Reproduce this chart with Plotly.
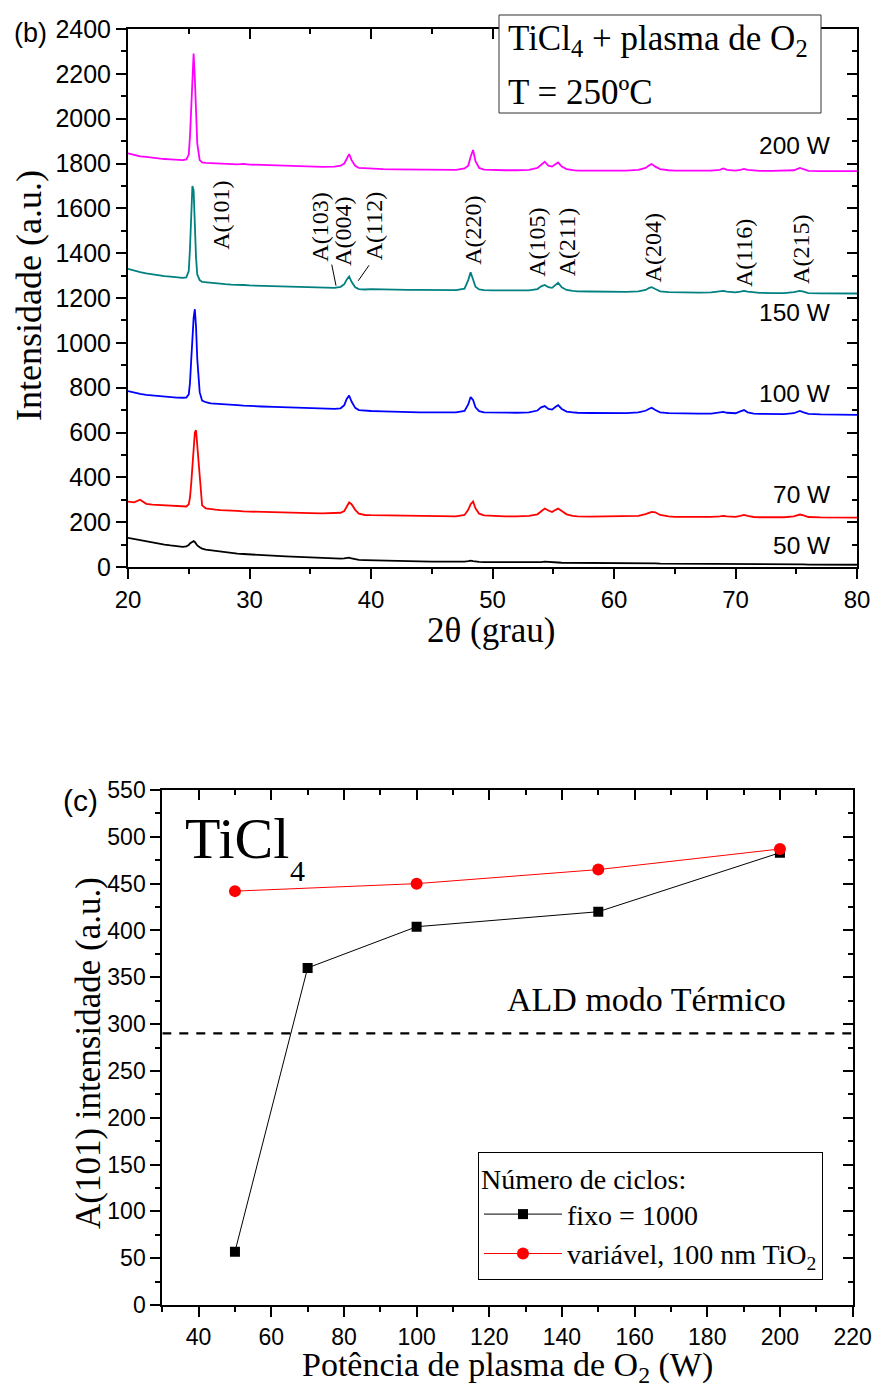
import plotly.graph_objects as go

# ---------------- data: panel (b) XRD patterns ----------------
two_theta = [
    20.0, 20.5, 21.0, 21.5, 22.0, 22.5, 23.0, 23.5, 24.0, 24.5, 24.8,
    25.0, 25.1, 25.2, 25.3, 25.4, 25.5, 25.6, 25.7, 25.9, 26.1,
    26.4, 26.8, 27.2, 27.6, 28.0, 28.5, 29.0, 29.5, 30.0, 31.0, 32.0, 33.0, 34.0, 35.0, 36.0, 37.0, 37.5,
    37.8, 38.0, 38.2, 38.4, 38.7, 39.0, 39.5,
    40.0, 41.0, 42.0, 43.0, 44.0, 45.0, 46.0, 47.0, 47.7,
    48.0, 48.2, 48.4, 48.6, 48.9, 49.3,
    50.0, 51.0, 52.0, 53.0, 53.7,
    54.0, 54.3, 54.6, 54.9, 55.2, 55.4, 55.7, 56.1, 56.6,
    57.0, 58.0, 59.0, 60.0, 61.0, 62.0, 62.6,
    62.9, 63.1, 63.4, 63.8, 64.5,
    65.0, 66.0, 67.0, 68.0, 68.7, 69.0, 69.3, 70.0, 70.4, 70.7, 71.0, 71.5, 72.0,
    73.0, 74.0, 74.8, 75.3, 75.6, 76.0, 77.0, 78.0, 79.0, 80.0,
]

i_200W = [
    1845, 1838, 1832, 1830, 1826, 1822, 1820, 1818, 1815, 1815, 1818,
    1840, 1920, 2050, 2200, 2290, 2180, 2000, 1890, 1815, 1805,
    1803, 1802, 1800, 1800, 1798, 1800, 1796, 1798, 1795, 1794, 1792, 1790, 1788, 1786, 1785, 1786, 1790,
    1800, 1825, 1842, 1815, 1790, 1780, 1778,
    1776, 1775, 1774, 1773, 1773, 1772, 1772, 1772, 1778,
    1790, 1830, 1860, 1810, 1780, 1773,
    1771, 1770, 1770, 1772, 1780,
    1795, 1808, 1790, 1786, 1798, 1805, 1786, 1775, 1770,
    1768, 1768, 1768, 1768, 1768, 1772, 1780,
    1792, 1798, 1786, 1775, 1770,
    1768, 1768, 1767, 1768, 1772, 1778, 1772, 1768, 1772, 1776, 1772, 1768, 1767,
    1767, 1767, 1770, 1780, 1774, 1767, 1766, 1766, 1766, 1766,
]

i_150W = [
    1330, 1322, 1315, 1310, 1305, 1302, 1298, 1295, 1292, 1290, 1292,
    1320, 1420, 1570, 1700, 1680, 1520, 1380, 1305, 1280, 1272,
    1270, 1268, 1266, 1264, 1262, 1260, 1260, 1258, 1256, 1254, 1252, 1250, 1248, 1246, 1245, 1245, 1250,
    1262, 1282, 1296, 1272, 1248, 1240, 1238,
    1240, 1238, 1237, 1236, 1236, 1235, 1235, 1235, 1242,
    1280, 1315, 1282, 1250, 1238, 1235,
    1234, 1234, 1233, 1234, 1240,
    1252, 1258, 1248, 1245, 1258, 1268, 1248, 1236, 1232,
    1230, 1229, 1228, 1228, 1227, 1230, 1236,
    1245, 1248, 1240, 1230, 1226,
    1225, 1224, 1224, 1225, 1228, 1232, 1228, 1225, 1228, 1232, 1228, 1224, 1223,
    1222, 1222, 1226, 1232, 1228, 1222, 1221, 1220, 1220, 1220,
]

i_100W = [
    785, 778, 772, 768, 765, 762, 760, 758, 756, 755, 756,
    770, 820, 920, 1040, 1110, 1150, 1070, 930, 780, 742,
    735, 730, 728, 726, 725, 722, 722, 720, 718, 716, 714, 712, 710, 708, 706, 705, 708,
    722, 750, 765, 738, 710, 700, 697,
    696, 694, 692, 692, 690, 690, 690, 690, 696,
    725, 758, 745, 712, 695, 690,
    689, 688, 688, 690, 698,
    712, 718, 705, 702, 715, 722, 705, 693, 690,
    688, 687, 686, 686, 686, 690, 697,
    706, 710, 700, 690, 686,
    685, 684, 684, 684, 688, 692, 688, 686, 694, 700, 690, 684, 683,
    682, 682, 686, 696, 690, 683, 681, 680, 680, 679,
]

i_70W = [
    292, 288, 300, 282, 278, 276, 274, 272, 270, 268, 270,
    280, 310, 370, 460, 550, 600, 610, 550, 400, 275,
    262, 258, 256, 254, 252, 250, 250, 248, 247, 245, 244, 242, 240, 240, 239, 240, 242,
    250, 268, 288, 280, 255, 238, 232,
    231, 230, 229, 228, 227, 227, 226, 226, 232,
    255, 280, 292, 262, 238, 230,
    228, 226, 226, 228, 235,
    250, 261, 252, 245, 255, 261, 250, 235, 228,
    226, 225, 225, 225, 225, 228, 236,
    240, 246, 244, 232, 226,
    224, 224, 223, 224, 226, 228, 226, 224, 228, 232, 228, 223, 222,
    222, 222, 226, 234, 230, 223, 221, 220, 220, 220,
]

i_50W = [
    130, 125, 118, 112, 108, 104, 100, 96, 93, 90, 92,
    98, 105, 110, 114, 116, 112, 104, 96, 88, 82,
    78, 75, 72, 68, 66, 63, 60, 58, 56, 53, 50, 47, 45, 42, 40, 38, 37,
    38, 40, 42, 38, 34, 32, 31,
    30, 28, 27, 26, 25, 24, 23, 23, 24,
    26, 28, 26, 24, 23, 22,
    22, 21, 20, 20, 21,
    22, 24, 22, 21, 21, 20, 19, 19, 18,
    18, 17, 17, 16, 16, 16, 16,
    17, 17, 16, 15, 15,
    15, 14, 14, 14, 13, 13, 13, 13, 13, 13, 13, 12, 12,
    12, 12, 12, 12, 12, 11, 11, 11, 10, 10,
]

series_names = ["50 W", "70 W", "100 W", "150 W", "200 W"]
series_values = [i_50W, i_70W, i_100W, i_150W, i_200W]
series_colors = ["#000000", "#FF0000", "#0000FF", "#008080", "#FF00FF"]

peak_labels = ["A(101)", "A(103)", "A(004)", "A(112)", "A(220)", "A(105)",
               "A(211)", "A(204)", "A(116)", "A(215)"]
peak_label_x = [27.6, 35.8, 37.7, 40.2, 48.4, 53.6, 56.1, 63.2, 70.65, 75.4]
peak_label_y = [1568, 1518, 1495, 1522, 1500, 1447, 1447, 1425, 1402, 1415]

# ---------------- data: panel (c) ----------------
power_W = [50, 70, 100, 150, 200]
fixo_1000 = [57, 360, 404, 420, 483]
power_var_W = [50, 100, 150, 200]
variavel_100nm = [442, 450, 465, 487]
ald_termico = 290

SERIF = "Liberation Serif"
SANS = "Liberation Sans"
W, H = 873, 1387


def px(xp):
    return xp / W


def py(yp):
    return 1 - yp / H


fig = go.Figure()

for name, vals, col in zip(series_names, series_values, series_colors):
    fig.add_trace(go.Scatter(x=two_theta, y=vals, mode="lines", name=name,
                             line=dict(color=col, width=1.8),
                             xaxis="x", yaxis="y", showlegend=False))

# dummy traces for mirrored (inward-tick) axes
fig.add_trace(go.Scatter(x=[None], y=[None], xaxis="x3", yaxis="y", showlegend=False, hoverinfo="skip"))
fig.add_trace(go.Scatter(x=[None], y=[None], xaxis="x", yaxis="y3", showlegend=False, hoverinfo="skip"))
fig.add_trace(go.Scatter(x=[None], y=[None], xaxis="x4", yaxis="y2", showlegend=False, hoverinfo="skip"))
fig.add_trace(go.Scatter(x=[None], y=[None], xaxis="x2", yaxis="y4", showlegend=False, hoverinfo="skip"))

# panel (c)
fig.add_trace(go.Scatter(x=[30, 220], y=[ald_termico, ald_termico], mode="lines",
                         line=dict(color="black", width=2.2, dash="9px,8px"),
                         xaxis="x2", yaxis="y2", showlegend=False, hoverinfo="skip"))
fig.add_trace(go.Scatter(x=power_W, y=fixo_1000, mode="lines+markers", name="fixo = 1000",
                         line=dict(color="black", width=1),
                         marker=dict(symbol="square", size=10, color="black"),
                         xaxis="x2", yaxis="y2"))
fig.add_trace(go.Scatter(x=power_var_W, y=variavel_100nm, mode="lines+markers",
                         name="variável, 100 nm TiO<sub>2</sub>",
                         line=dict(color="#FF0000", width=1),
                         marker=dict(symbol="circle", size=12, color="#FF0000"),
                         xaxis="x2", yaxis="y2"))

axis_common = dict(showgrid=False, zeroline=False, showline=True, linecolor="black",
                   linewidth=2, tickcolor="black", tickwidth=2, ticklen=10, automargin=False)

fig.update_layout(
    width=W, height=H, autosize=False,
    margin=dict(l=0, r=0, t=0, b=0, pad=0, autoexpand=False),
    paper_bgcolor="white", plot_bgcolor="white",
    xaxis=dict(domain=[px(128), px(857)], anchor="y", range=[20, 80], tick0=20, dtick=10,
               ticks="outside", tickfont=dict(family=SANS, size=24, color="black"),
               minor=dict(dtick=5, ticklen=5, ticks="outside", tickwidth=2, tickcolor="black"),
               **axis_common),
    yaxis=dict(domain=[py(567), py(29)], anchor="x", range=[0, 2400], tick0=0, dtick=200,
               ticks="outside", tickfont=dict(family=SANS, size=25, color="black"),
               minor=dict(dtick=100, ticklen=5, ticks="outside", tickwidth=2, tickcolor="black"),
               **axis_common),
    xaxis3=dict(overlaying="x", side="top", anchor="y", range=[20, 80], tick0=20, dtick=10,
                ticks="inside", showticklabels=False,
                minor=dict(dtick=5, ticklen=5, ticks="inside", tickwidth=2, tickcolor="black"),
                **axis_common),
    yaxis3=dict(overlaying="y", side="right", anchor="x", range=[0, 2400], tick0=0, dtick=200,
                ticks="inside", showticklabels=False,
                minor=dict(dtick=100, ticklen=5, ticks="inside", tickwidth=2, tickcolor="black"),
                **axis_common),
    xaxis2=dict(domain=[px(162.3), px(852.6)], anchor="y2", range=[30, 220], tick0=0, dtick=20,
                ticks="outside", tickfont=dict(family=SANS, size=23, color="black"),
                minor=dict(dtick=10, ticklen=5, ticks="outside", tickwidth=2, tickcolor="black"),
                **axis_common),
    yaxis2=dict(domain=[py(1305), py(790)], anchor="x2", range=[0, 550], tick0=0, dtick=50,
                ticks="outside", tickfont=dict(family=SANS, size=23, color="black"),
                minor=dict(dtick=25, ticklen=5, ticks="outside", tickwidth=2, tickcolor="black"),
                **axis_common),
    xaxis4=dict(overlaying="x2", side="top", anchor="y2", range=[30, 220], tick0=0, dtick=20,
                ticks="inside", showticklabels=False,
                minor=dict(dtick=10, ticklen=5, ticks="inside", tickwidth=2, tickcolor="black"),
                **axis_common),
    yaxis4=dict(overlaying="y2", side="right", anchor="x2", range=[0, 550], tick0=0, dtick=50,
                ticks="inside", showticklabels=False,
                minor=dict(dtick=25, ticklen=5, ticks="inside", tickwidth=2, tickcolor="black"),
                **axis_common),
    legend=dict(x=px(478), y=py(1152), xanchor="left", yanchor="top",
                bgcolor="white", bordercolor="black", borderwidth=1,
                font=dict(family=SERIF, size=28, color="black"),
                title=dict(text="Número de ciclos:", font=dict(family=SERIF, size=28, color="black")),
                tracegroupgap=0, itemwidth=78),
    showlegend=True,
)

ann = []
# peak labels
for t, xx, yy in zip(peak_labels, peak_label_x, peak_label_y):
    ann.append(dict(text=t, x=xx, y=yy, xref="x", yref="y", textangle=-90, showarrow=False,
                    font=dict(family=SERIF, size=24, color="black"),
                    xanchor="center", yanchor="middle"))
# power labels
w_label_y = [98, 322, 772, 1134, 1880]
for t, yy in zip(series_names, w_label_y):
    ann.append(dict(text=t, x=78.02, y=yy, xref="x", yref="y", showarrow=False,
                    font=dict(family=SANS, size=24.5, color="black"),
                    xanchor="right", yanchor="middle"))


def tann(text, xp, yp, size, family=SERIF, xanchor="left", yanchor="middle", angle=0):
    ann.append(dict(text=text, x=px(xp), y=py(yp), xref="paper", yref="paper",
                    showarrow=False, textangle=angle,
                    font=dict(family=family, size=size, color="black"),
                    xanchor=xanchor, yanchor=yanchor))


tann("TiCl<sub>4</sub> + plasma de O<sub>2</sub>", 506, 40, 35)
tann("T = 250ºC", 506, 93, 35)
tann("(b)", 30, 33, 27, family=SANS, xanchor="center")
tann("(c)", 80, 800, 30, family=SANS, xanchor="center")
tann("Intensidade (a.u.)", 29, 296, 36, xanchor="center", angle=-90)
tann("2θ (grau)", 491, 630, 35, xanchor="center")
tann("A(101) intensidade (a.u.)", 88, 1053, 35, xanchor="center", angle=-90)
tann("Potência de plasma de O<sub>2</sub> (W)", 507, 1367, 34, xanchor="center")
tann("TiCl", 183, 838, 58)
tann("4", 297, 870, 30, xanchor="center")
tann("ALD modo Térmico", 505, 999, 34)

fig.update_layout(annotations=ann)

shapes = [
    dict(type="rect", xref="paper", yref="paper", x0=px(499), x1=px(821), y0=py(113), y1=py(15),
         fillcolor="white", line=dict(color="#333333", width=1), layer="above"),
    dict(type="line", xref="x", yref="y", x0=36.77, y0=1349, x1=37.12, y1=1255,
         line=dict(color="black", width=1)),
    dict(type="line", xref="x", yref="y", x0=39.84, y0=1346, x1=38.95, y1=1277,
         line=dict(color="black", width=1)),
]
fig.update_layout(shapes=shapes)

fig.write_html("out.html", config={"displayModeBar": False},
               post_script="document.body.style.margin='0px';")
